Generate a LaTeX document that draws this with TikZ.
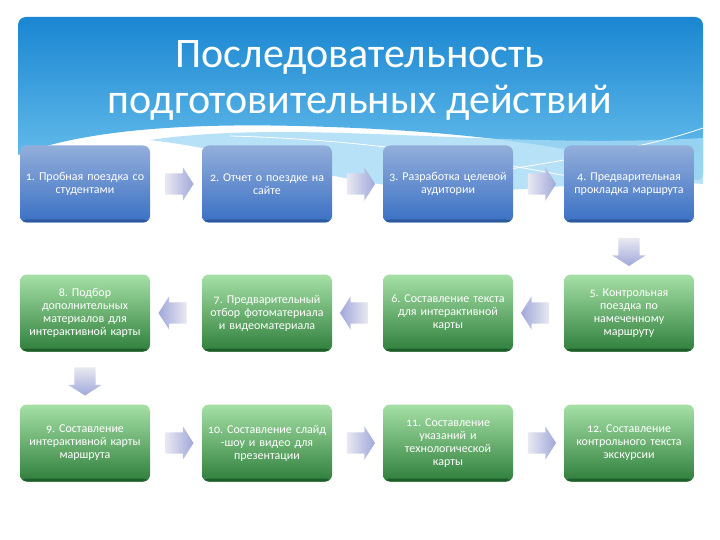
\documentclass[tikz,border=0pt]{standalone}
\usepackage{fontspec}
\setmainfont{Carlito}[Numbers=OldStyle]
\frenchspacing
\usetikzlibrary{calc}
\usetikzlibrary{shapes.arrows}

\definecolor{hdrtop}{HTML}{1A86D1}
\definecolor{hdrbot}{HTML}{6FC4EE}
\definecolor{hdrband}{HTML}{A6DAF4}
\definecolor{bluetop}{HTML}{93AEDA}
\definecolor{bluebot}{HTML}{3A70C4}
\definecolor{blueedge}{HTML}{2C5A9C}
\definecolor{greentop}{HTML}{A6E0A6}
\definecolor{greenbot}{HTML}{2F7F3C}
\definecolor{greenedge}{HTML}{1F5E2A}
\definecolor{arrlight}{HTML}{E9E9F1}
\definecolor{arrdark}{HTML}{A0A8DA}

\begin{document}
\begin{tikzpicture}[x=1pt, y=-1pt,
    stepbox/.style={rounded corners=7pt, minimum width=130pt, minimum height=77pt,
        text width=126pt, align=center, inner sep=0pt, text=white,
        font=\fontsize{12}{13}\selectfont},
    bluestep/.style={stepbox, top color=bluetop, bottom color=bluebot,
        path picture={\fill[blueedge] (path picture bounding box.south west)
            rectangle ([yshift=3pt]path picture bounding box.south east);}},
    greenstep/.style={stepbox, top color=greentop, bottom color=greenbot,
        path picture={\fill[greenedge] (path picture bounding box.south west)
            rectangle ([yshift=3pt]path picture bounding box.south east);}},
    blockarrow/.style={single arrow, inner sep=10.5pt, minimum height=28pt,
        single arrow head extend=6pt, single arrow tip angle=115},
    rightarrow/.style={blockarrow, left color=arrlight, right color=arrdark},
    leftarrow/.style={blockarrow, shape border rotate=180, left color=arrdark, right color=arrlight},
    downarrow/.style={blockarrow, shape border rotate=270, top color=arrlight, bottom color=arrdark},
]
    \useasboundingbox (0,0) rectangle (720,540);
    \fill[white] (0,0) rectangle (720,540);

    \shade[top color=hdrtop, bottom color=hdrbot] (18,155) [rounded corners=8pt] -- (18,17) -- (703,17) -- (703,182)
        [sharp corners] .. controls (600,150) and (480,132) .. (330,127) .. controls (200,122) and (90,128) .. (18,155);
    \fill[hdrband, opacity=0.8] (150,140) .. controls (300,118) and (500,150) .. (703,138) -- (703,184)
        .. controls (600,176) and (520,196) .. (430,190) .. controls (330,182) and (250,152) .. (150,140);
    \draw[white, line width=0.8pt] (230,136) .. controls (380,140) and (480,160) .. (600,182);
    \draw[white, line width=0.8pt] (470,176) .. controls (560,160) and (640,150) .. (703,128);

    \node[text=white, align=center, font=\fontsize{42}{46}\selectfont] (title) at (360,80)
        {Последовательность\\подготовительных действий};

    \node[bluestep] (s1) at (85,184) {1. Пробная поездка со\\студентами};
    \node[bluestep] (s2) at (267,184) {2. Отчет о поездке на\\сайте};
    \node[bluestep] (s3) at (448,184) {3. Разработка целевой\\аудитории};
    \node[bluestep] (s4) at (629,184) {4. Предварительная\\прокладка маршрута};

    \node[greenstep] (s5) at (629,313) {5. Контрольная\\поездка по\\намеченному\\маршруту};
    \node[greenstep] (s6) at (448,313) {6. Составление текста\\для интерактивной\\карты};
    \node[greenstep] (s7) at (267,313) {7. Предварительный\\отбор фотоматериала\\и видеоматериала};
    \node[greenstep] (s8) at (85,313) {8. Подбор\\дополнительных\\материалов для\\интерактивной карты};

    \node[greenstep] (s9) at (85,443) {9. Составление\\интерактивной карты\\маршрута};
    \node[greenstep] (s10) at (267,443) {10. Составление слайд\\-шоу и видео для\\презентации};
    \node[greenstep] (s11) at (448,443) {11. Составление\\указаний и\\технологической\\карты};
    \node[greenstep] (s12) at (629,443) {12. Составление\\контрольного текста\\экскурсии};

    \node[rightarrow] (a12) at ($(s1.east)!.5!(s2.west)$) {};
    \node[rightarrow] (a23) at ($(s2.east)!.5!(s3.west)$) {};
    \node[rightarrow] (a34) at ($(s3.east)!.5!(s4.west)$) {};
    \node[downarrow] (a45) at ($(s4.south)!.5!(s5.north)$) {};
    \node[leftarrow] (a56) at ($(s5.west)!.5!(s6.east)$) {};
    \node[leftarrow] (a67) at ($(s6.west)!.5!(s7.east)$) {};
    \node[leftarrow] (a78) at ($(s7.west)!.5!(s8.east)$) {};
    \node[downarrow] (a89) at ($(s8.south)!.5!(s9.north)$) {};
    \node[rightarrow] (a910) at ($(s9.east)!.5!(s10.west)$) {};
    \node[rightarrow] (a1011) at ($(s10.east)!.5!(s11.west)$) {};
    \node[rightarrow] (a1112) at ($(s11.east)!.5!(s12.west)$) {};
\end{tikzpicture}
\end{document}
